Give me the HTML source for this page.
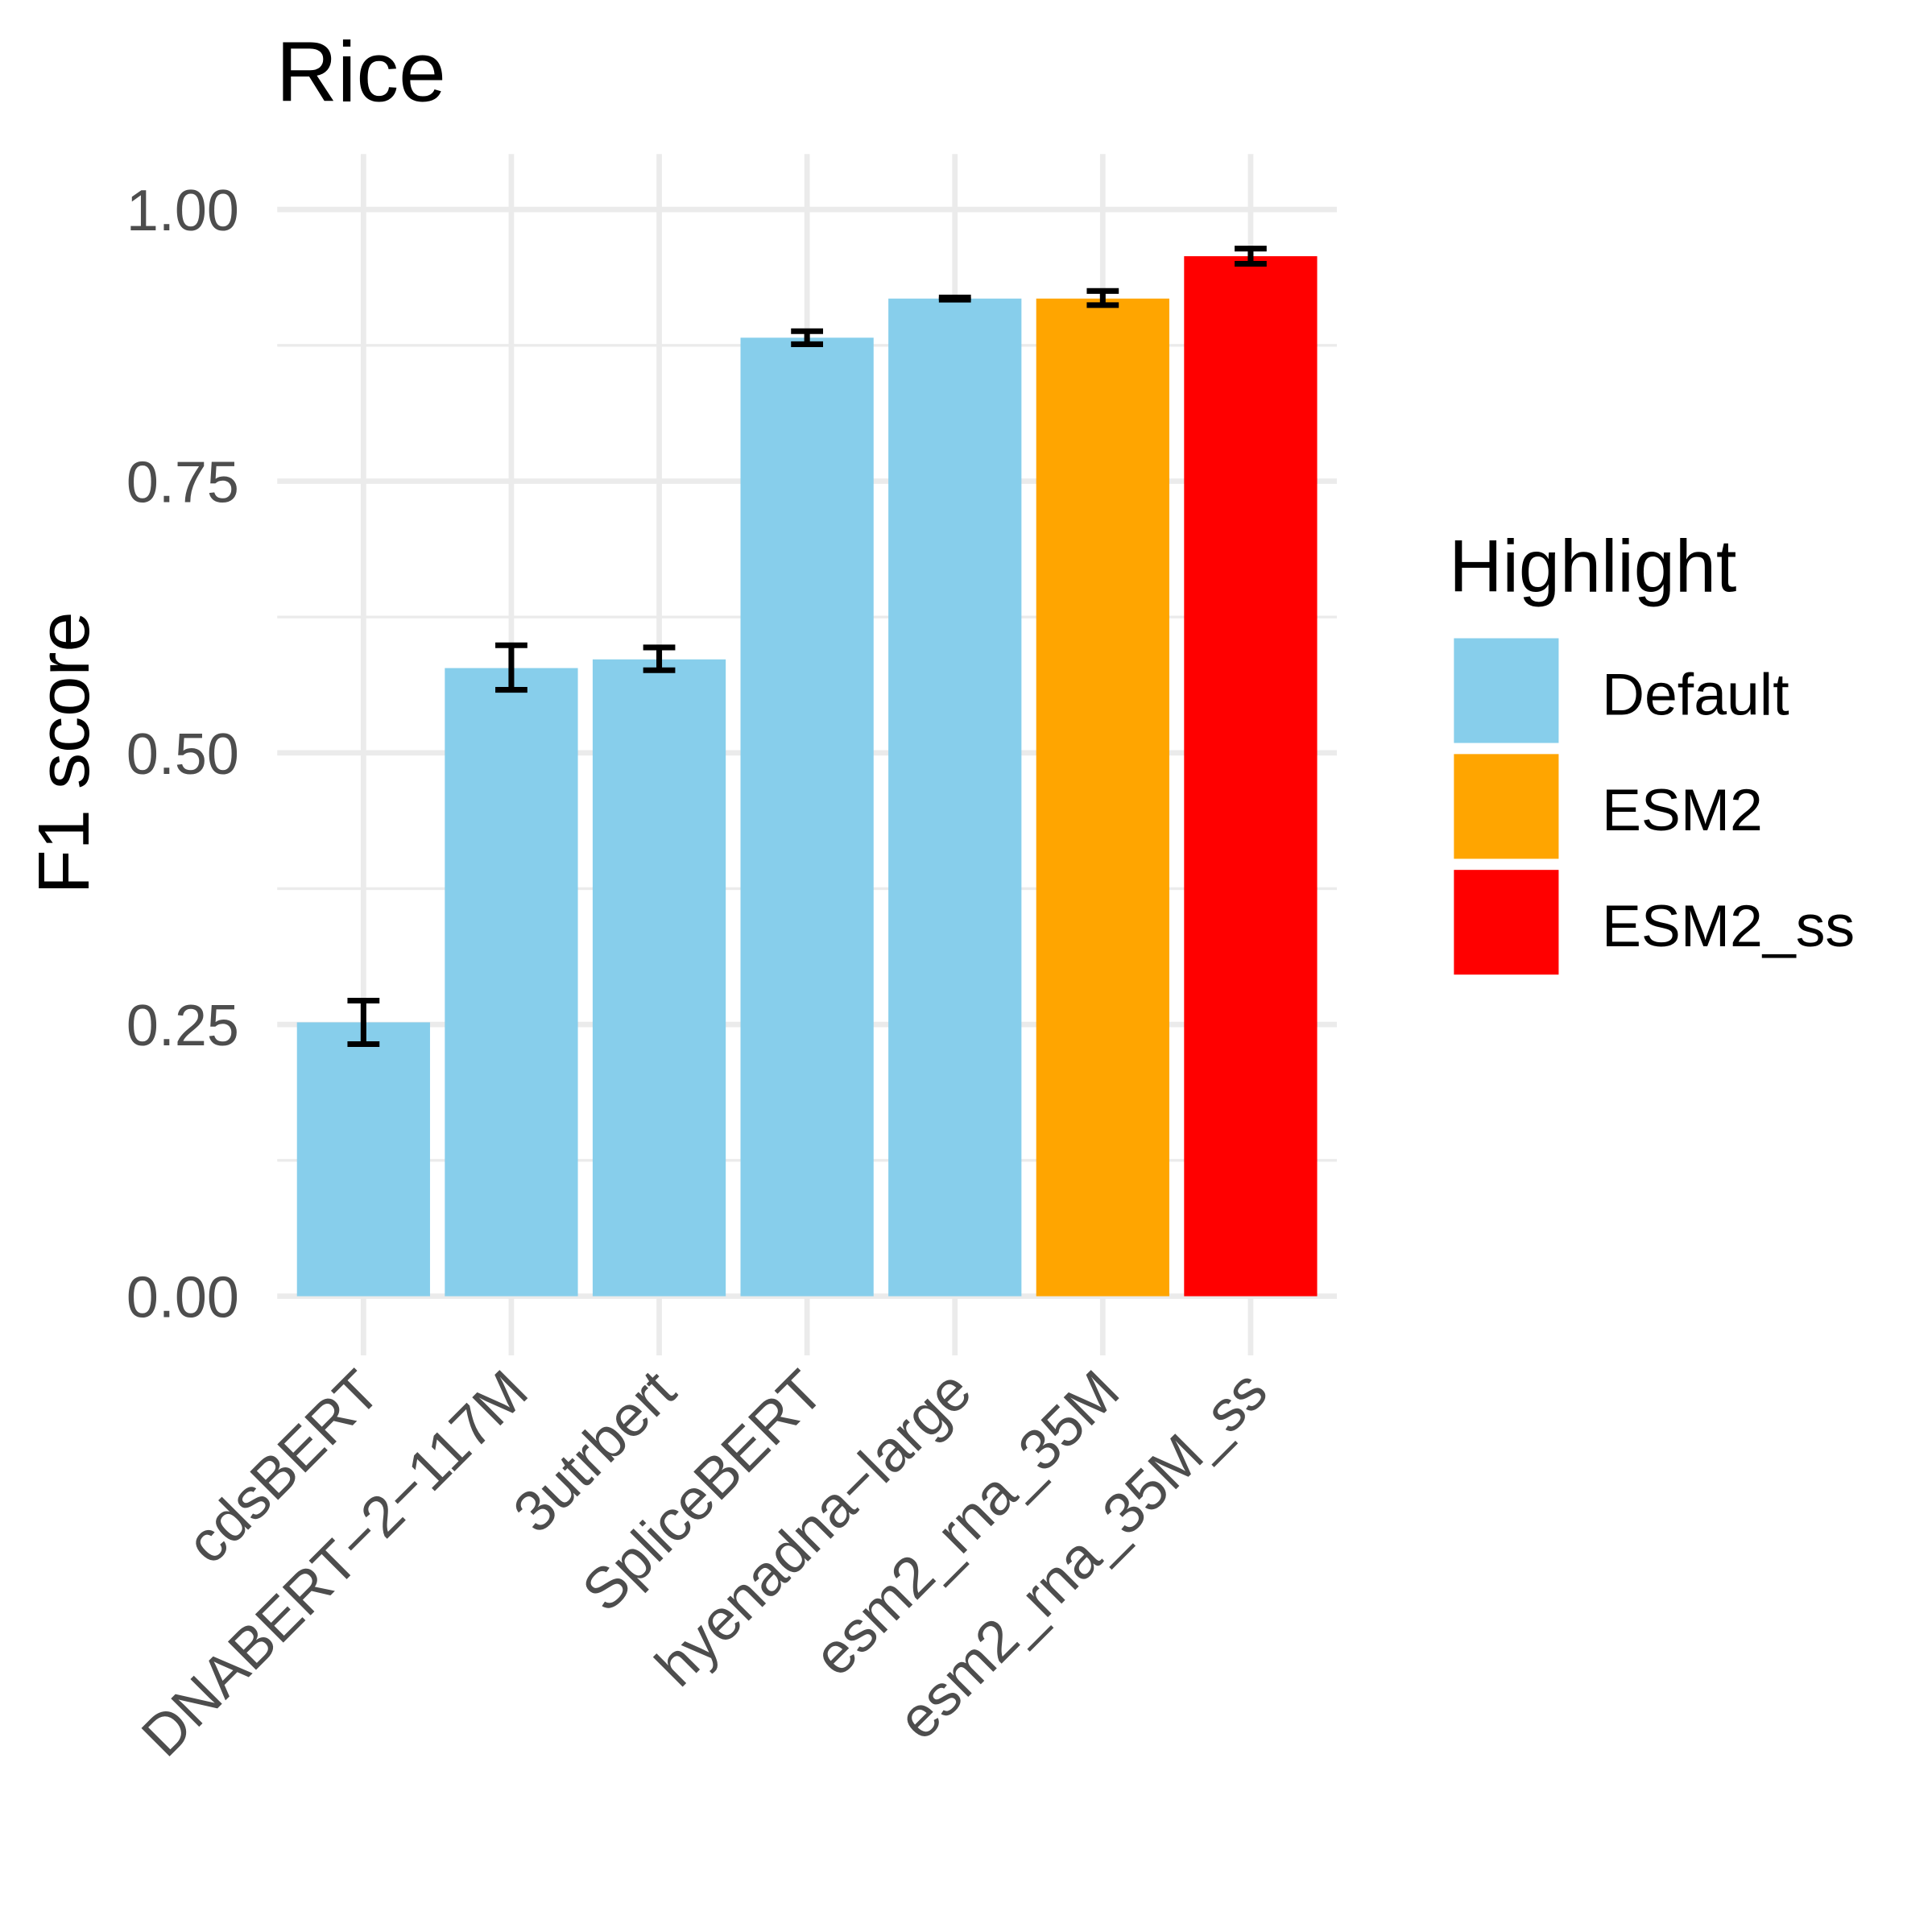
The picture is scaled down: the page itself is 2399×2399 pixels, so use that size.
<!DOCTYPE html>
<html><head><meta charset="utf-8"><style>
html,body{margin:0;padding:0;background:#fff}
svg{display:block}
text{font-family:"Liberation Sans",Arial,sans-serif}
</style></head><body>
<svg id="chart" width="2399" height="2399" viewBox="0 0 1568 1568" xmlns="http://www.w3.org/2000/svg">
<g id="grid"></g>
<g id="bars"></g>
<g id="axes"></g>
<text x="224" y="82" font-size="69" fill="#000">Rice</text>
<text transform="translate(72,611) rotate(-90)" text-anchor="middle" font-size="59" fill="#000">F1 score</text>
<g>
<text x="1176" y="480" font-size="60" fill="#000">Highlight</text>
<rect x="1180" y="518" width="85" height="85" fill="#87CEEB"/>
<rect x="1180" y="612" width="85" height="85" fill="#FFA500"/>
<rect x="1180" y="706" width="85" height="85" fill="#FF0000"/>
<text x="1300" y="580" font-size="48" fill="#000">Default</text>
<text x="1300" y="674" font-size="48" fill="#000">ESM2</text>
<text x="1300" y="768" font-size="48" fill="#000">ESM2_ss</text>
</g>
</svg>
<script>
const categories=["cdsBERT","DNABERT-2-117M","3utrbert","SpliceBERT","hyenadna-large","esm2_rna_35M","esm2_rna_35M_ss"];
const labels=["cdsBERT","DNABERT\u22122\u2212117M","3utrbert","SpliceBERT","hyenadna\u2212large","esm2_rna_35M","esm2_rna_35M_ss"];
const values=[0.252,0.578,0.586,0.882,0.918,0.918,0.957];
const errLow=[0.232,0.558,0.576,0.876,0.917,0.912,0.950];
const errHigh=[0.272,0.599,0.597,0.888,0.919,0.925,0.964];
const groups=["Default","Default","Default","Default","Default","ESM2","ESM2_ss"];
const yTicks=[0,0.25,0.5,0.75,1.0];
const yTickLabels=["0.00","0.25","0.50","0.75","1.00"];
const colors={Default:"#87CEEB",ESM2:"#FFA500",ESM2_ss:"#FF0000"};
const NS="http://www.w3.org/2000/svg";
const y=v=>1052-v*882;
const x=i=>295+i*120;
const bw=108;
function mk(tag,attrs,parent){const e=document.createElementNS(NS,tag);for(const k in attrs)e.setAttribute(k,attrs[k]);parent.appendChild(e);return e;}
const grid=document.getElementById('grid'),bars=document.getElementById('bars'),axes=document.getElementById('axes');
for(let k=0;k<yTicks.length-1;k++){const m=(yTicks[k]+yTicks[k+1])/2;
 const l=mk('line',{x1:225,x2:1085,y1:y(m),y2:y(m),stroke:'#ebebeb','stroke-width':2.2},grid);
 
 }
yTicks.forEach((t,k)=>{const l=mk('line',{x1:225,x2:1085,y1:y(t),y2:y(t),stroke:'#ebebeb','stroke-width':4.4},grid);
 
 
 const tx=mk('text',{x:194,y:y(t)+17,'text-anchor':'end','font-size':47,fill:'#4d4d4d'},axes);tx.textContent=yTickLabels[k];
 
 });
categories.forEach((c,i)=>{const l=mk('line',{x1:x(i),x2:x(i),y1:125,y2:1100,stroke:'#ebebeb','stroke-width':4.4},grid);
 
 
 const r=mk('rect',{x:x(i)-bw/2,y:y(values[i]),width:bw,height:y(0)-y(values[i]),fill:colors[groups[i]]},bars);
 
 
 const g=mk('g',{stroke:'#000','stroke-width':4.6,fill:'none'},bars);
 
 
 mk('line',{x1:x(i),x2:x(i),y1:y(errLow[i]),y2:y(errHigh[i])},g);
 mk('line',{x1:x(i)-13,x2:x(i)+13,y1:y(errLow[i]),y2:y(errLow[i])},g);
 mk('line',{x1:x(i)-13,x2:x(i)+13,y1:y(errHigh[i]),y2:y(errHigh[i])},g);
 const t=mk('text',{transform:`translate(${x(i)+16},${1132}) rotate(-45)`,'text-anchor':'end','font-size':47,fill:'#4d4d4d'},axes);t.textContent=labels[i];
 
 });
</script>
</body></html>
